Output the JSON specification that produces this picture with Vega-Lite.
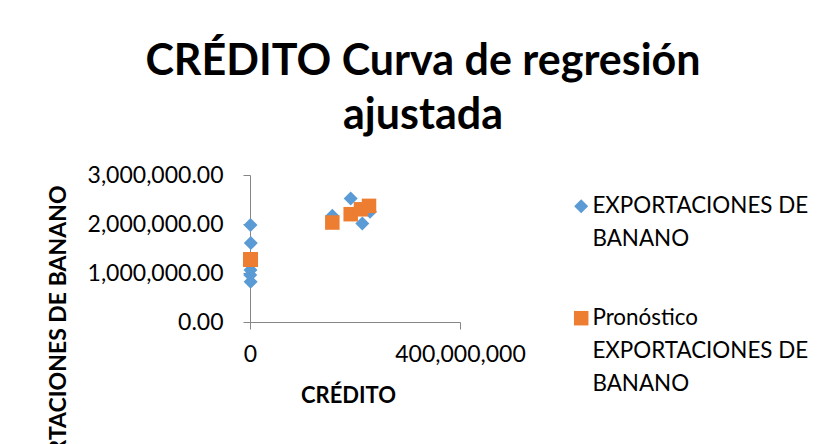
{
  "$schema": "https://vega.github.io/schema/vega-lite/v6.json",
  "width": 210,
  "height": 147,
  "autosize": {"type": "none"},
  "padding": {"left": 250, "top": 175, "right": 364, "bottom": 122},
  "background": "white",
  "config": {
    "view": {"stroke": null},
    "font": "Lato",
    "style": {"guide-label": {"lineHeight": 33}}
  },
  "title": {
    "text": ["CRÉDITO Curva de regresión", "ajustada"],
    "font": "Lato",
    "fontSize": 43,
    "fontWeight": "bold",
    "color": "#000000",
    "anchor": "middle",
    "frame": "group",
    "dx": 68,
    "lineHeight": 54,
    "offset": 26
  },
  "data": {
    "values": [
      {"series": "EXPORTACIONES DE BANANO", "credito": 1000000, "valor": 1980000},
      {"series": "EXPORTACIONES DE BANANO", "credito": 1500000, "valor": 1610000},
      {"series": "EXPORTACIONES DE BANANO", "credito": 800000, "valor": 1180000},
      {"series": "EXPORTACIONES DE BANANO", "credito": 1000000, "valor": 1060000},
      {"series": "EXPORTACIONES DE BANANO", "credito": 500000, "valor": 960000},
      {"series": "EXPORTACIONES DE BANANO", "credito": 1200000, "valor": 820000},
      {"series": "EXPORTACIONES DE BANANO", "credito": 156800000, "valor": 2170000},
      {"series": "EXPORTACIONES DE BANANO", "credito": 191800000, "valor": 2520000},
      {"series": "EXPORTACIONES DE BANANO", "credito": 213900000, "valor": 2010000},
      {"series": "EXPORTACIONES DE BANANO", "credito": 228600000, "valor": 2250000},
      {"series": "Pronóstico EXPORTACIONES DE BANANO", "credito": 1000000, "valor": 1275000},
      {"series": "Pronóstico EXPORTACIONES DE BANANO", "credito": 1500000, "valor": 1277000},
      {"series": "Pronóstico EXPORTACIONES DE BANANO", "credito": 800000, "valor": 1274000},
      {"series": "Pronóstico EXPORTACIONES DE BANANO", "credito": 500000, "valor": 1272000},
      {"series": "Pronóstico EXPORTACIONES DE BANANO", "credito": 1200000, "valor": 1276000},
      {"series": "Pronóstico EXPORTACIONES DE BANANO", "credito": 156800000, "valor": 2030000},
      {"series": "Pronóstico EXPORTACIONES DE BANANO", "credito": 191800000, "valor": 2200000},
      {"series": "Pronóstico EXPORTACIONES DE BANANO", "credito": 211400000, "valor": 2300000},
      {"series": "Pronóstico EXPORTACIONES DE BANANO", "credito": 226700000, "valor": 2370000}
    ]
  },
  "mark": {"type": "point", "filled": true, "opacity": 1, "strokeWidth": 0},
  "encoding": {
    "x": {
      "field": "credito",
      "type": "quantitative",
      "scale": {"domain": [0, 400000000], "nice": false, "zero": true},
      "axis": {
        "values": [0, 400000000],
        "format": ",d",
        "grid": false,
        "domainColor": "#868686",
        "tickColor": "#868686",
        "tickSize": 7,
        "labelFont": "Lato",
        "labelFontSize": 23,
        "labelColor": "#000000",
        "labelPadding": 14,
        "labelFlush": false,
        "labelOverlap": false,
        "title": "CRÉDITO",
        "titleFont": "Lato",
        "titleFontSize": 22,
        "titleFontWeight": "bold",
        "titleColor": "#000000",
        "titleX": 98,
        "titleY": 80,
        "titleBaseline": "alphabetic",
        "titleAnchor": null
      }
    },
    "y": {
      "field": "valor",
      "type": "quantitative",
      "scale": {"domain": [0, 3000000], "nice": false},
      "axis": {
        "values": [0, 1000000, 2000000, 3000000],
        "format": ",.2f",
        "grid": false,
        "domainColor": "#868686",
        "tickColor": "#868686",
        "tickSize": 7,
        "labelFont": "Lato",
        "labelFontSize": 23,
        "labelColor": "#000000",
        "labelPadding": 20,
        "labelOverlap": false,
        "labelFlush": false,
        "title": "EXPORTACIONES DE BANANO",
        "titleFont": "Lato",
        "titleFontSize": 23,
        "titleFontWeight": "bold",
        "titleColor": "#000000",
        "titleAngle": -90,
        "titleAlign": "right",
        "titleBaseline": "middle",
        "titleX": -192,
        "titleY": 10
      }
    },
    "color": {
      "field": "series",
      "type": "nominal",
      "scale": {
        "domain": ["EXPORTACIONES DE BANANO", "Pronóstico EXPORTACIONES DE BANANO"],
        "range": ["#5B9BD5", "#ED7D31"]
      },
      "legend": {
        "title": null,
        "orient": "none",
        "legendX": 320,
        "legendY": 20,
        "labelFont": "Lato",
        "labelFontSize": 22.4,
        "labelColor": "#000000",
        "labelLimit": 400,
        "labelOffset": 0,
        "rowPadding": 56,
        "symbolStrokeWidth": 0,
        "labelExpr": "datum.label == 'EXPORTACIONES DE BANANO' ? ['EXPORTACIONES DE', 'BANANO'] : ['Pronóstico', 'EXPORTACIONES DE', 'BANANO']",
        "encode": {
          "labels": {
            "update": {
              "baseline": {"value": "alphabetic"},
              "dy": {"value": 8},
              "lineHeight": {"value": 33}
            }
          }
        }
      }
    },
    "shape": {
      "field": "series",
      "type": "nominal",
      "scale": {
        "domain": ["EXPORTACIONES DE BANANO", "Pronóstico EXPORTACIONES DE BANANO"],
        "range": ["diamond", "square"]
      }
    },
    "size": {
      "field": "series",
      "type": "nominal",
      "scale": {
        "domain": ["EXPORTACIONES DE BANANO", "Pronóstico EXPORTACIONES DE BANANO"],
        "range": [196, 210]
      },
      "legend": null
    }
  }
}
